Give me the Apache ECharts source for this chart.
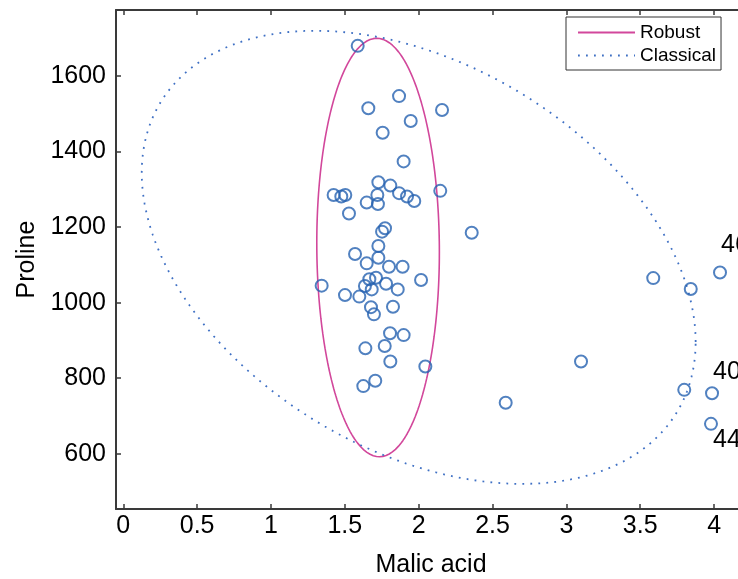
<!DOCTYPE html>
<html>
<head>
<meta charset="utf-8">
<script src="https://cdn.jsdelivr.net/npm/echarts@6/dist/echarts.min.js"></script>
<style>html,body{margin:0;padding:0;background:#fff}#c{width:738px;height:579px}</style>
</head>
<body>
<div id="c"></div>
<script>
// ---- data ----
const malicAcid = [1.587,1.867,1.659,2.158,1.946,1.756,1.898,2.146,1.727,1.808,1.424,1.476,1.503,1.720,1.867,1.921,1.970,1.648,1.724,1.528,1.752,1.772,2.359,1.727,1.569,1.727,1.648,1.799,1.891,1.343,2.016,1.666,1.711,1.636,1.682,1.779,1.858,1.501,1.598,1.677,1.697,1.826,1.806,1.898,1.639,1.770,1.808,2.045,1.706,1.625,3.588,3.842,4.040,3.099,2.589,3.798,3.986,3.979];
const proline = [1680,1547,1515,1510,1481,1450,1374,1296,1319,1310,1285,1281,1285,1285,1290,1281,1269,1265,1261,1236,1188,1197,1185,1150,1129,1119,1104,1095,1095,1045,1060,1062,1066,1044,1035,1050,1035,1020,1016,988,969,989,919,914,879,885,844,831,793,779,1065,1036,1080,844,735,769,760,679];
const pointLabels = ['46','40','44'];
const pointLabelIndex = [52,56,57];

const robustCenter = [1.725, 1146];
const robustCov = [[0.1722, -5], [-5, 306916]];
const classicalCenter = [2.0, 1120];
const classicalCov = [[3.516, -420], [-420, 360000]];

const xTicks = [0,0.5,1,1.5,2,2.5,3,3.5,4];
const yTicks = [600,800,1000,1200,1400,1600];
const xName = 'Malic acid';
const yName = 'Proline';
const seriesNames = ['Robust','Classical'];

// ---- build ----
function ellipse(c, S, n) {
  const L11 = Math.sqrt(S[0][0]);
  const L21 = S[0][1] / L11;
  const L22 = Math.sqrt(S[1][1] - L21 * L21);
  const pts = [];
  for (let i = 0; i <= n; i++) {
    const t = 2 * Math.PI * i / n;
    pts.push([c[0] + L11 * Math.cos(t), c[1] + L21 * Math.cos(t) + L22 * Math.sin(t)]);
  }
  return pts;
}

const FONT = 'Liberation Sans';
const labelOffset = {'46':[1,-27], '40':[1,-21], '44':[2,16]};
const labelData = pointLabelIndex.map((idx, k) => {
  const t = pointLabels[k];
  return {
    value: [malicAcid[idx], proline[idx]],
    label: { show: true, formatter: t, position: 'inside', offset: labelOffset[t], align: 'left', verticalAlign: 'middle',
      fontSize: 25, color: '#000', fontFamily: FONT }
  };
});
const scatterData = malicAcid.map((x, i) => [x, proline[i]]);

const AX = '#3a3a3a';
const chart = echarts.init(document.getElementById('c'), null, { renderer: 'canvas' });
chart.setOption({
  animation: false,
  backgroundColor: '#fff',
  grid: { left: 116, top: 10, right: -8, bottom: 70, containLabel: false, outerBoundsMode: 'none' },
  legend: {
    data: seriesNames,
    orient: 'vertical',
    left: 566, top: 17,
    padding: [6, 5, 5, 11],
    itemWidth: 57, itemHeight: 20, itemGap: 4,
    itemStyle: { opacity: 0 },
    borderColor: '#333', borderWidth: 1, borderRadius: 0,
    backgroundColor: '#fff',
    textStyle: { fontSize: 19, fontFamily: FONT, color: '#000' }
  },
  xAxis: [{
    type: 'value', min: -0.0494, max: 4.216,
    name: xName, nameLocation: 'middle', nameGap: 44,
    nameTextStyle: { fontSize: 25, fontFamily: FONT, color: '#000' },
    axisLine: { show: true, onZero: false, lineStyle: { color: AX, width: 2 } },
    axisTick: { show: true, inside: true, length: 5, customValues: xTicks, lineStyle: { color: AX, width: 1.5 } },
    axisLabel: { customValues: xTicks, fontSize: 25, fontFamily: FONT, color: '#000', margin: 5, formatter: v => String(v) },
    splitLine: { show: false }
  }, {
    type: 'value', position: 'top', min: -0.0494, max: 4.216,
    axisLine: { show: true, onZero: false, lineStyle: { color: AX, width: 2 } },
    axisTick: { show: true, inside: true, length: 5, customValues: xTicks, lineStyle: { color: AX, width: 1.5 } },
    axisLabel: { show: false },
    splitLine: { show: false }
  }],
  yAxis: [{
    type: 'value', min: 453.5, max: 1775,
    name: yName, nameLocation: 'middle', nameGap: 71, nameRotate: 90,
    nameTextStyle: { fontSize: 25, fontFamily: FONT, color: '#000' },
    axisLine: { show: true, onZero: false, lineStyle: { color: AX, width: 2 } },
    axisTick: { show: true, inside: true, length: 5, customValues: yTicks, lineStyle: { color: AX, width: 1.5 } },
    axisLabel: { customValues: yTicks, fontSize: 25, fontFamily: FONT, color: '#000', margin: 10, formatter: v => String(v) },
    splitLine: { show: false }
  }],
  series: [{
    type: 'scatter', name: 'data',
    symbol: 'circle', symbolSize: 12,
    itemStyle: { color: 'rgba(0,0,0,0)', borderColor: '#2562b0', borderWidth: 2 },
    data: scatterData,
    z: 3
  }, {
    type: 'scatter', name: 'labels',
    symbol: 'circle', symbolSize: 0.01,
    itemStyle: { color: '#000', opacity: 1 },
    data: labelData,
    z: 4
  }, {
    type: 'line', name: seriesNames[0],
    data: ellipse(robustCenter, robustCov, 240),
    showSymbol: false, symbol: 'none', smooth: false,
    lineStyle: { color: '#d2479b', width: 1.6 },
    itemStyle: { color: '#d2479b' },
    z: 2
  }, {
    type: 'line', name: seriesNames[1],
    data: ellipse(classicalCenter, classicalCov, 400),
    showSymbol: false, symbol: 'none', smooth: false,
    lineStyle: { color: '#3f70c4', width: 1.8, type: [1.8, 6.2] },
    itemStyle: { color: '#3f70c4' },
    z: 2
  }]
});
</script>
</body>
</html>
